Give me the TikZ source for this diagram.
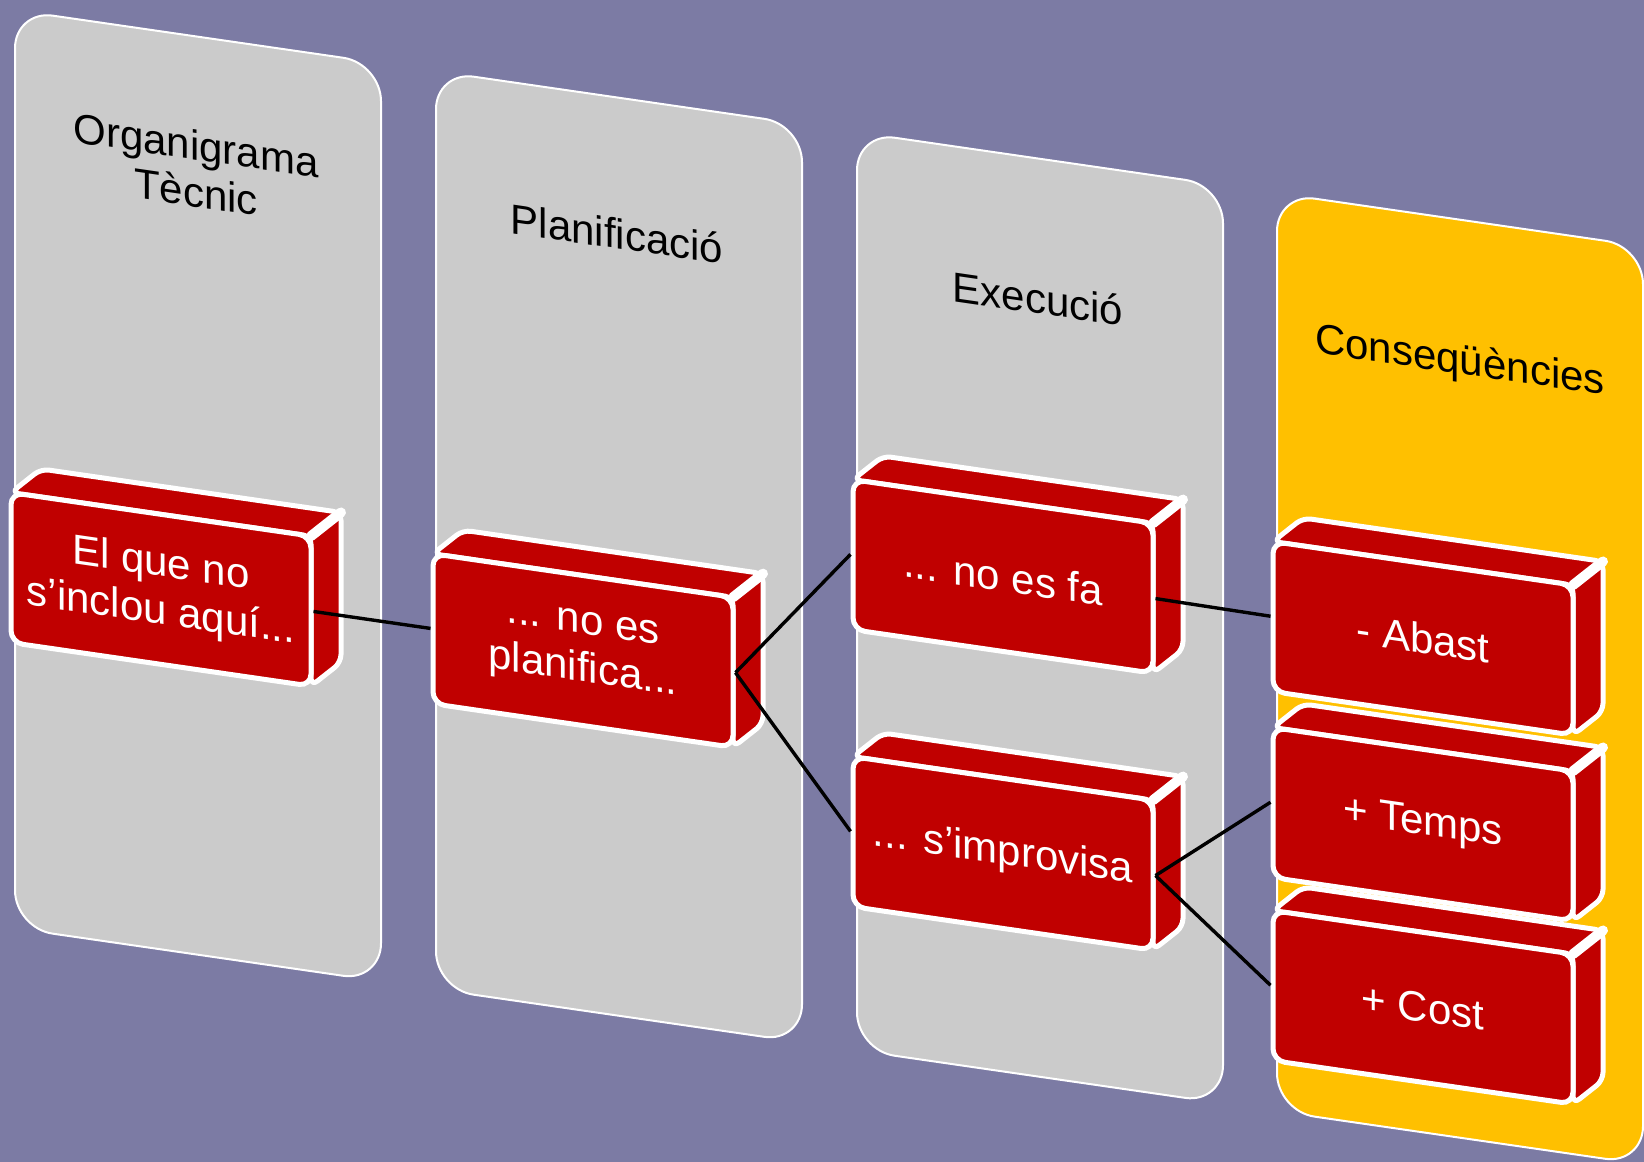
\documentclass[tikz,border=0pt]{standalone}
\usepackage{fontspec}
\setmainfont{Liberation Sans}
\definecolor{bgpurple}{RGB}{124,123,164}
\definecolor{colgray}{RGB}{203,203,203}
\definecolor{colyellow}{RGB}{255,192,0}
\definecolor{boxred}{RGB}{192,0,0}
\begin{document}
\begin{tikzpicture}[x=0.5pt,y=-0.5pt,
    col/.style={draw=white,line width=1pt,rounded corners=19pt,
      minimum width=183pt,minimum height=459pt,transform shape},
    coltitle/.style={font=\fontsize{21}{23.5}\selectfont,align=center,transform shape},
    redbox/.style={draw=white,fill=boxred,line width=2.5pt,rounded corners=6pt,
      minimum width=150pt,minimum height=75pt,inner sep=0pt,text=white,align=center,
      font=\fontsize{21}{24}\selectfont,transform shape},
    link/.style={black,line width=1.7pt}]
  % Background
  \fill[bgpurple] (0,0) rectangle (1644,1162);
  \useasboundingbox (0,0) rectangle (1644,1162);

  \begin{scope}[yslant=-0.145]
  % Columns
  \foreach \i/\x/\c in {1/198/colgray,2/619/colgray,3/1040/colgray,4/1460/colyellow}
    \node[col,fill=\c] (col-\i) at (\x,467) {};

  % Column titles
  \node[coltitle] (tit-1) at (196,140) {Organigrama\\Tècnic};
  \node[coltitle] (tit-2) at (617,144) {Planificació};
  \node[coltitle] (tit-3) at (1038,148) {Execució};
  \node[coltitle] (tit-4) at (1460,151) {Conseqüències};

  % Red boxes: top and side faces, then the front face
  \foreach \n/\x/\y/\txt in {inclou/161/566/{El que no\\s’inclou aquí...},
      planifica/583/566/{... no es\\planifica...},
      fa/1003/431/{... no es fa},
      improvisa/1003/708/{... s’improvisa},
      abast/1423/432/{- Abast},
      temps/1423/618/{+ Temps},
      cost/1423/801/{+ Cost}} {
    \filldraw[boxred,draw=white,line width=2.5pt,rounded corners=4pt,line join=round]
      (\x-150,\y-75) -- ++(30,-28) -- ++(300,0) -- ++(0,150) -- ++(-30,28)
      -- (\x+150,\y-75) -- cycle;
    \draw[white,line width=5pt,line cap=round] (\x+150,\y-75) -- ++(30,-28);
    \node[redbox] (\n) at (\x,\y) {\txt};
  }

  % Links
  \draw[link] (inclou.east) -- (planifica.west);
  \draw[link] (planifica.east) -- (fa.west);
  \draw[link] (planifica.east) -- (improvisa.west);
  \draw[link] (fa.east) -- (abast.west);
  \draw[link] (improvisa.east) -- (temps.west);
  \draw[link] (improvisa.east) -- (cost.west);
  \end{scope}
\end{tikzpicture}
\end{document}
